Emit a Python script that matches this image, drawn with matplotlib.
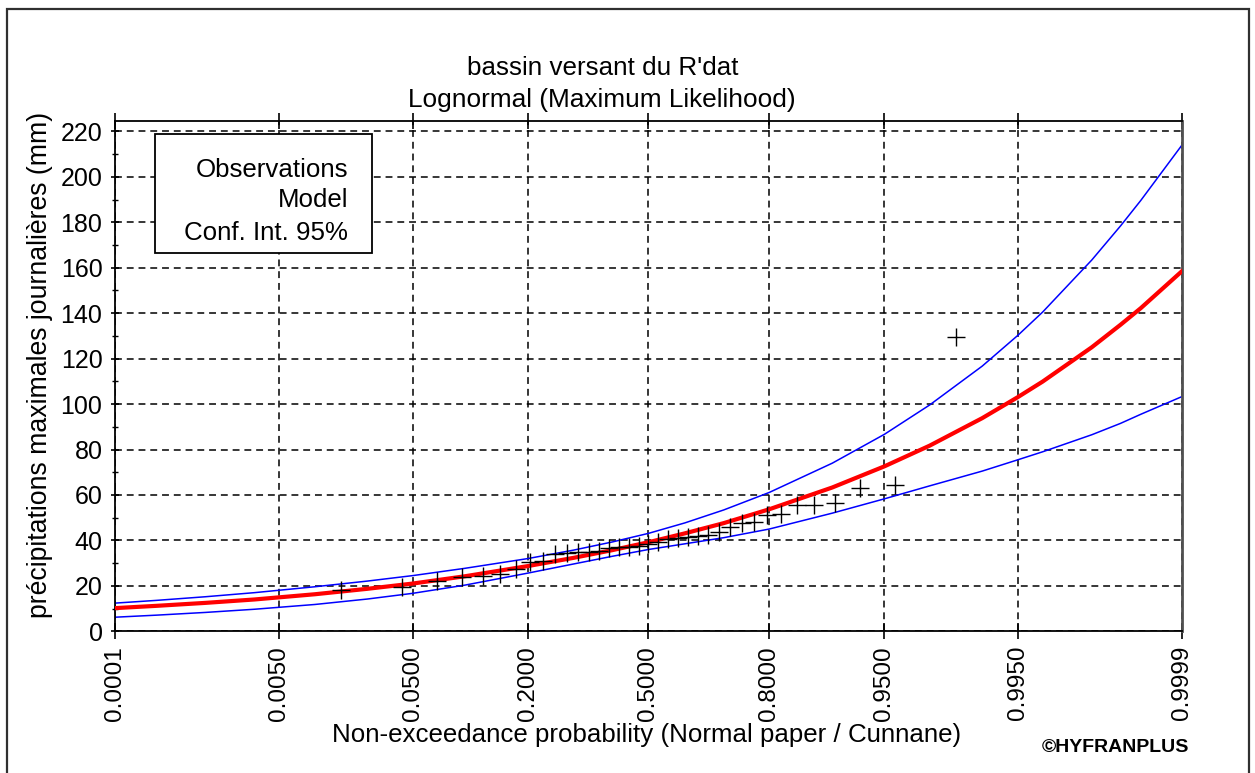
import numpy as np
import matplotlib
matplotlib.use("Agg")
import matplotlib.pyplot as plt
from matplotlib.patches import Rectangle
from statistics import NormalDist

# ---------------- data ----------------
title_line1 = "bassin versant du R'dat"
title_line2 = "Lognormal (Maximum Likelihood)"
x_label = "Non-exceedance probability (Normal paper / Cunnane)"
y_label = "précipitations maximales journalières (mm)"
legend_labels = ["Observations", "Model", "Conf. Int. 95%"]
credit = "©HYFRANPLUS"

x_ticks = [0.0001, 0.005, 0.05, 0.2, 0.5, 0.8, 0.95, 0.995, 0.9999]
x_tick_labels = ["0.0001", "0.0050", "0.0500", "0.2000", "0.5000",
                 "0.8000", "0.9500", "0.9950", "0.9999"]
y_ticks = [0, 20, 40, 60, 80, 100, 120, 140, 160, 180, 200, 220]
y_minor_ticks = [10, 30, 50, 70, 90, 110, 130, 150, 170, 190, 210]

curve_prob = [0.0001, 0.0003, 0.001, 0.003, 0.01, 0.025, 0.05, 0.1, 0.2,
              0.3, 0.4, 0.5, 0.6, 0.7, 0.8, 0.9, 0.95, 0.975, 0.99, 0.995,
              0.997, 0.999, 0.9995, 0.9997, 0.9999]
model_values = [10.2, 11.2, 12.5, 14.0, 16.3, 18.7, 21.0, 24.2, 28.7,
                32.3, 35.7, 39.2, 43.1, 47.6, 53.7, 63.3, 72.6, 81.7, 93.8,
                103.1, 109.9, 125.0, 134.9, 142.2, 158.5]
upper_values = [12.4, 13.6, 15.2, 17.0, 19.6, 22.1, 24.5, 27.7, 32.0,
                35.7, 39.3, 43.1, 47.7, 53.4, 61.1, 74.0, 86.7, 99.6, 116.7,
                130.3, 140.5, 163.4, 178.4, 189.6, 214.0]
lower_values = [6.2, 7.1, 8.3, 9.7, 11.8, 14.2, 16.7, 20.3, 25.6,
                29.6, 33.0, 36.0, 38.5, 41.2, 45.0, 52.0, 58.3, 64.0, 70.5,
                75.5, 79.0, 86.5, 91.5, 95.5, 103.3]

obs_prob = [0.0161, 0.0430, 0.0699, 0.0968, 0.1237, 0.1505, 0.1774, 0.2043,
            0.2312, 0.2581, 0.2849, 0.3118, 0.3387, 0.3656, 0.3925, 0.4194,
            0.4462, 0.4731, 0.5000, 0.5269, 0.5538, 0.5806, 0.6075, 0.6344,
            0.6613, 0.6882, 0.7151, 0.7419, 0.7688, 0.7957, 0.8226, 0.8495,
            0.8763, 0.9032, 0.9301, 0.9570, 0.9839]
obs_values = [18.0, 19.5, 22.0, 24.0, 24.5, 25.0, 27.5, 30.5, 31.0, 34.0,
              34.5, 35.0, 35.0, 35.5, 36.5, 37.0, 37.2, 37.5, 38.5, 39.5,
              40.5, 41.0, 41.5, 42.0, 42.4, 43.5, 46.0, 47.5, 48.0, 51.0,
              51.5, 55.5, 55.7, 56.3, 63.0, 64.4, 129.5]

# ---------------- figure ----------------
W, H = 1255, 773
plt.rcParams["font.family"] = ["Liberation Sans", "DejaVu Sans"]
fig = plt.figure(figsize=(W / 100, H / 100), dpi=100)
fig.patch.set_facecolor("white")

L, R, B, T = 115, 1182, 631.3, 120.7
ax = fig.add_axes([L / W, 1 - B / H, (R - L) / W, (B - T) / H])

nd = NormalDist()
_ppf = np.vectorize(nd.inv_cdf, otypes=[float])
_cdf = np.vectorize(nd.cdf, otypes=[float])


def fwd(p):
    p = np.asarray(p, dtype=float)
    p = np.where(np.isfinite(p), p, 0.5)
    return _ppf(np.clip(p, 1e-12, 1 - 1e-12))


def inv(z):
    z = np.asarray(z, dtype=float)
    z = np.where(np.isfinite(z), z, 0.0)
    return _cdf(z)


ax.set_xscale("function", functions=(fwd, inv))
ax.set_xlim(0.0001, 0.9999)
ax.set_ylim(0, 224.7)

# grid
ax.set_axisbelow(True)
ax.grid(True, which="major", color="black", linestyle=(0, (4.5, 3.2)),
        linewidth=1.1)

# curves
ax.plot(curve_prob, upper_values, color="#0000ff", lw=1.1, zorder=2)
ax.plot(curve_prob, lower_values, color="#0000ff", lw=1.1, zorder=2)
ax.plot(curve_prob, model_values, color="#ff0000", lw=3.0, zorder=3,
        solid_joinstyle="round")
ax.plot(obs_prob, obs_values, linestyle="none", marker="+", color="black",
        markersize=12.5, markeredgewidth=1.0, zorder=4)

# ticks
ax.set_xticks(x_ticks)
ax.set_xticklabels(x_tick_labels, rotation=90, fontsize=17.5)
ax.xaxis.set_minor_locator(matplotlib.ticker.NullLocator())
ax.set_yticks(y_ticks)
ax.set_yticklabels([str(v) for v in y_ticks], fontsize=18)
ax.set_yticks(y_minor_ticks, minor=True)
ax.tick_params(axis="x", which="major", direction="inout", length=11,
               width=1.2, pad=5, top=True, colors="black")
ax.tick_params(axis="y", which="major", direction="inout", length=6,
               width=1.2, pad=6)
ax.tick_params(axis="y", which="minor", direction="inout", length=4,
               width=1.0)

for s in ["left", "bottom", "top"]:
    ax.spines[s].set_color("black")
    ax.spines[s].set_linewidth(1.3)
ax.spines["right"].set_color("#505050")
ax.spines["right"].set_linewidth(2.0)

# legend box (text only, as in the reference)
ax.add_patch(Rectangle((0.0375, 0.740), 0.2031, 0.234, transform=ax.transAxes,
                       facecolor="white", edgecolor="black", lw=1.3,
                       zorder=6, clip_on=False))
for lab, yy in zip(legend_labels, [0.903, 0.845, 0.781]):
    ax.text(0.2187, yy, lab, transform=ax.transAxes, ha="right", va="center",
            fontsize=18.6, zorder=7)

# titles and labels
fig.text(603 / W, 1 - 68 / H, title_line1, ha="center", va="center",
         fontsize=18.7)
fig.text(602 / W, 1 - 100 / H, title_line2, ha="center", va="center",
         fontsize=18.9)
fig.text(647 / W, 1 - 735 / H, x_label, ha="center", va="center",
         fontsize=18.6)
fig.text(40 / W, 1 - 365 / H, y_label, ha="center", va="center",
         rotation=90, fontsize=19.2)
fig.text(1189 / W, 1 - 748 / H, credit, ha="right", va="center",
         fontsize=14, fontweight="bold")

# outer frame
fig.patches.append(Rectangle((6.5 / W, -0.05), (1249 - 6.5) / W,
                             1.05 - 9.5 / H, transform=fig.transFigure,
                             facecolor="none", edgecolor="#303030", lw=1.6))

fig.savefig("out.png", dpi=100)
